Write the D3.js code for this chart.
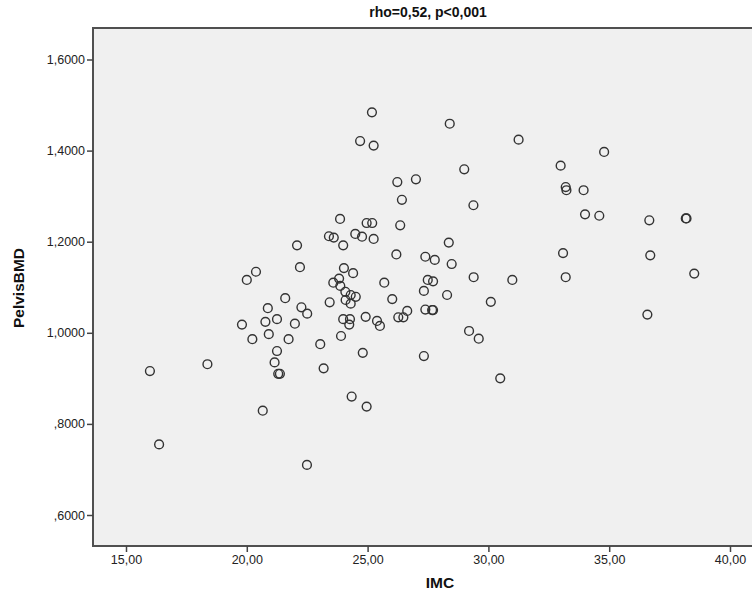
<!DOCTYPE html>
<html><head><meta charset="utf-8">
<script src="https://cdn.jsdelivr.net/npm/d3@7"></script>
<style>body{margin:0;background:#fff;} text{font-family:"Liberation Sans",Arial,sans-serif;}</style>
</head><body>
<svg id="chart" width="752" height="599"></svg>
<script>
const title = "rho=0,52, p<0,001";
const xLabel = "IMC";
const yLabel = "PelvisBMD";
const xTicks = [15, 20, 25, 30, 35, 40];
const yTicks = [0.6, 0.8, 1.0, 1.2, 1.4, 1.6];
const imc = [15.99,16.37,18.37,19.80,20.00,20.38,20.23,20.66,20.77,20.87,20.91,21.25,21.25,21.15,21.30,21.37,21.59,21.73,21.99,22.08,22.20,22.26,22.50,22.49,23.04,23.18,23.43,23.40,23.60,23.58,23.82,23.87,23.86,23.90,23.99,24.02,24.08,23.99,24.27,24.24,24.30,24.51,24.09,24.30,24.40,24.34,24.49,24.77,24.69,24.80,24.92,24.96,24.96,25.18,25.19,25.25,25.25,25.39,25.51,25.69,26.02,26.19,26.23,26.27,26.35,26.42,26.48,26.64,27.00,27.33,27.33,27.39,27.49,27.39,27.67,27.71,27.71,27.78,28.29,28.36,28.40,28.48,29.00,29.20,29.38,29.39,29.60,30.10,30.49,30.99,31.25,32.99,33.09,33.20,33.23,33.20,33.94,34.00,34.59,34.79,36.58,36.66,36.70,38.17,38.20,38.52];
const bmd = [0.916,0.755,0.931,1.018,1.116,1.134,0.986,0.829,1.024,1.054,0.997,1.030,0.960,0.935,0.910,0.910,1.076,0.986,1.020,1.192,1.144,1.056,1.042,0.710,0.975,0.922,1.067,1.212,1.209,1.110,1.119,1.103,1.250,0.993,1.192,1.142,1.090,1.030,1.030,1.018,1.083,1.079,1.072,1.064,1.131,0.860,1.217,1.211,1.421,0.956,1.035,1.241,0.838,1.484,1.241,1.411,1.206,1.026,1.015,1.110,1.074,1.172,1.331,1.034,1.236,1.292,1.034,1.048,1.337,1.092,0.949,1.167,1.116,1.051,1.050,1.050,1.113,1.160,1.083,1.198,1.459,1.151,1.359,1.004,1.280,1.122,0.987,1.068,0.900,1.116,1.424,1.367,1.175,1.320,1.313,1.122,1.313,1.260,1.257,1.397,1.040,1.247,1.170,1.251,1.251,1.130];

const svg = d3.select("#chart");
const L = 93, T = 28, B = 546, R = 760;
const x = d3.scaleLinear().domain([15, 40]).range([126, 730]);
const y = d3.scaleLinear().domain([0.6, 1.6]).range([515, 59.5]);
const fmtX = d => d.toFixed(2).replace(".", ",");
const fmtY = d => { let s = d.toFixed(4).replace(".", ","); return d < 1 ? s.replace(/^0/, "") : s; };

svg.append("rect").attr("x", L).attr("y", T).attr("width", R - L).attr("height", B - T)
  .attr("fill", "#f0f0f0");

const pts = imc.map((v, i) => [v, bmd[i]]);
svg.append("g").selectAll("circle").data(pts).join("circle")
  .attr("cx", d => x(d[0])).attr("cy", d => y(d[1])).attr("r", 4.4)
  .attr("fill", "none").attr("stroke", "#333").attr("stroke-width", 1.4);

// frame
svg.append("path").attr("d", `M${R},${T}H${L}V${B}H${R}`).attr("fill", "none")
  .attr("stroke", "#505050").attr("stroke-width", 2);

const xAxis = svg.append("g").attr("transform", `translate(0,${B})`)
  .call(d3.axisBottom(x).tickValues(xTicks).tickFormat(fmtX).tickSize(6).tickPadding(3));
const yAxis = svg.append("g").attr("transform", `translate(${L},0)`)
  .call(d3.axisLeft(y).tickValues(yTicks).tickFormat(fmtY).tickSize(6).tickPadding(2));
[xAxis, yAxis].forEach(g => {
  g.select(".domain").remove();
  g.selectAll(".tick line").attr("stroke", "#444").attr("stroke-width", 1.5);
  g.selectAll(".tick text").attr("fill", "#222").style("font-size", "12.5px");
});

svg.append("text").attr("x", 428).attr("y", 17).attr("text-anchor", "middle")
  .style("font-size", "14px").style("font-weight", "bold").attr("fill", "#111").text(title);
svg.append("text").attr("x", 440).attr("y", 588).attr("text-anchor", "middle")
  .style("font-size", "15.5px").style("font-weight", "bold").attr("fill", "#111").text(xLabel);
svg.append("text").attr("transform", "translate(24,288) rotate(-90)").attr("text-anchor", "middle")
  .style("font-size", "15.5px").style("font-weight", "bold").attr("fill", "#111").text(yLabel);
</script>
</body></html>
